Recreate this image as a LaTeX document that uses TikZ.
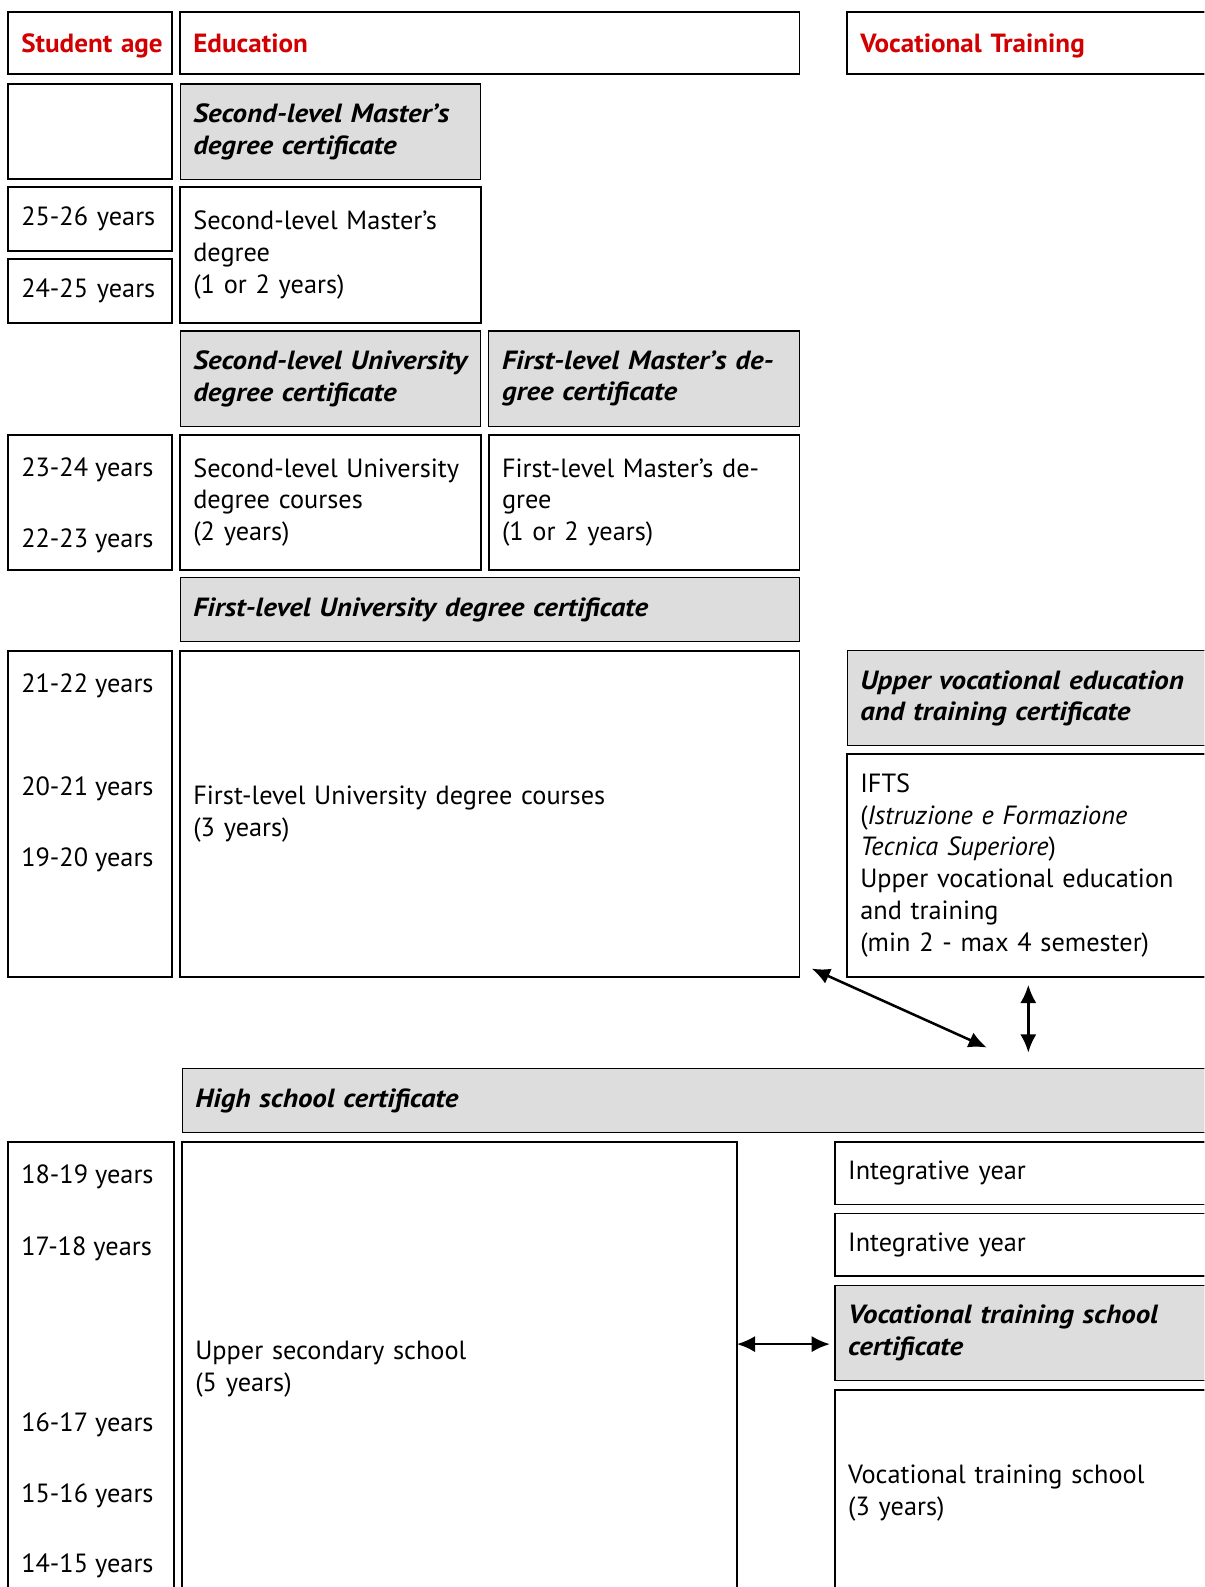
\documentclass[tikz,border=0pt]{standalone}
\usepackage{fontspec}
\setmainfont{PT Sans}
\newfontfamily\certfont{PT Sans}[FakeStretch=1.1]
\newfontfamily\hdrfont{PT Sans}[FakeStretch=1.03]
\usetikzlibrary{arrows.meta,calc}
\definecolor{hdrred}{RGB}{210,0,0}
\definecolor{certgray}{RGB}{221,221,221}
\newcommand\mycell[7]{%
  \pgfmathsetmacro\mycw{#5-#3}\pgfmathsetmacro\mych{#6-#4}\pgfmathsetmacro\mytw{#5-#3-26}%
  \pgfmathsetmacro\mycx{(#3+#5)/2}\pgfmathsetmacro\mycy{(#4+#6)/2}%
  \node[#2, minimum width=\mycw pt, minimum height=\mych pt, text width=\mytw pt] (#1) at (\mycx,\mycy) {#7};}
\begin{document}
\begin{tikzpicture}[x=1pt,y=-1pt,
  base/.style={font=\fontsize{26}{31.4}\selectfont, align=left, inner sep=0pt, outer sep=0pt},
  wbox/.style={base, draw, line width=1.7pt, fill=white},
  gbox/.style={base, draw, line width=1.1pt, fill=certgray, font=\fontsize{26}{31.4}\selectfont\certfont\bfseries\itshape},
  hbox/.style={wbox, font=\fontsize{26}{31.4}\selectfont\hdrfont\bfseries, text=hdrred, text height=21pt, text depth=2pt},
  agelbl/.style={base, anchor=base west}]
\useasboundingbox (0,0) rectangle (1190,1568);
\begin{scope}
\clip (0,0) rectangle (1190,1568);
% header
\mycell{hage}{hbox}{8}{12}{170}{73}{\mbox{Student age}}
\mycell{hedu}{hbox}{178}{12}{790}{73}{Education}
\mycell{hvoc}{hbox}{837}{12}{1240}{73}{Vocational Training}
% second-level master
\mycell{aempty}{wbox}{8}{83}{170}{177}{}
\mycell{cmast2}{gbox}{178}{83}{475}{177}{Second-level Master’s\\degree certificate}
\mycell{a2526}{wbox}{8}{185}{170}{248}{25-26 years}
\mycell{a2425}{wbox}{8}{256}{170}{319}{24-25 years}
\mycell{mast2}{wbox}{178}{185}{475}{319}{Second-level Master’s\\degree\\(1 or 2 years)}
% second-level university / first-level master
\mycell{cuni2}{gbox}{178}{327}{475}{421}{Second-level University\\degree certificate}
\mycell{cmast1}{gbox}{483}{327}{790}{421}{First-level Master’s de-\\gree certificate}
\mycell{a2224}{wbox}{8}{430}{170}{563}{}
\node[agelbl] (l2324) at (21,471) {23-24 years};
\node[agelbl] (l2223) at (21,541) {22-23 years};
\mycell{uni2}{wbox}{178}{430}{475}{563}{Second-level University\\degree courses\\(2 years)}
\mycell{mast1}{wbox}{483}{430}{790}{563}{First-level Master’s de-\\gree\\(1 or 2 years)}
% first-level university
\mycell{cuni1}{gbox}{178}{571}{790}{634}{First-level University degree certificate}
\mycell{a1922}{wbox}{8}{643}{170}{965}{}
\node[agelbl] (l2122) at (21,684) {21-22 years};
\node[agelbl] (l2021) at (21,786) {20-21 years};
\node[agelbl] (l1920) at (21,856) {19-20 years};
\mycell{uni1}{wbox}{178}{643}{790}{965}{First-level University degree courses\\(3 years)}
\mycell{cuvet}{gbox}{837}{643}{1240}{737}{Upper vocational education\\and training certificate}
\mycell{ifts}{wbox}{837}{745}{1240}{965}{IFTS\\(\textit{Istruzione e Formazione}\\\textit{Tecnica Superiore})\\Upper vocational education\\and training\\(min 2 - max 4 semester)}
% high school
\mycell{chs}{gbox}{180}{1056}{1240}{1119}{High school certificate}
\mycell{a1419}{wbox}{8}{1128}{172}{1577}{}
\node[agelbl] (l1819) at (21,1169) {18-19 years};
\node[agelbl] (l1718) at (21,1240) {17-18 years};
\node[agelbl] (l1617) at (21,1414) {16-17 years};
\node[agelbl] (l1516) at (21,1484) {15-16 years};
\node[agelbl] (l1415) at (21,1554) {14-15 years};
\mycell{uss}{wbox}{180}{1128}{728}{1577}{Upper secondary school\\(5 years)}
\mycell{int1}{wbox}{825}{1128}{1240}{1190}{Integrative year}
\mycell{int2}{wbox}{825}{1199}{1240}{1261}{Integrative year}
\mycell{cvts}{gbox}{825}{1270}{1240}{1364}{Vocational training school\\certificate}
\mycell{vts}{wbox}{825}{1373}{1240}{1577}{Vocational training school\\(3 years)}
\end{scope}
% arrows
\coordinate (dA) at ($(uni1.south east)+(12pt,8pt)$);
\coordinate (dB) at (975,1035);
\draw[line width=2.5pt, arrows={Latex[length=18pt,width=16pt]-Latex[length=18pt,width=16pt]}] (dA) -- (dB);
\coordinate (vx) at (1016,0);
\draw[line width=2.5pt, arrows={Latex[length=18pt,width=16pt]-Latex[length=18pt,width=16pt]}] ([yshift=-8pt]ifts.south -| vx) -- ([yshift=16pt]chs.north -| vx);
\coordinate (hy) at (0,1328);
\draw[line width=2.5pt, arrows={Latex[length=18pt,width=16pt]-Latex[length=18pt,width=16pt]}] (uss.east |- hy) -- ([xshift=-5pt]cvts.west |- hy);
\end{tikzpicture}
\end{document}
